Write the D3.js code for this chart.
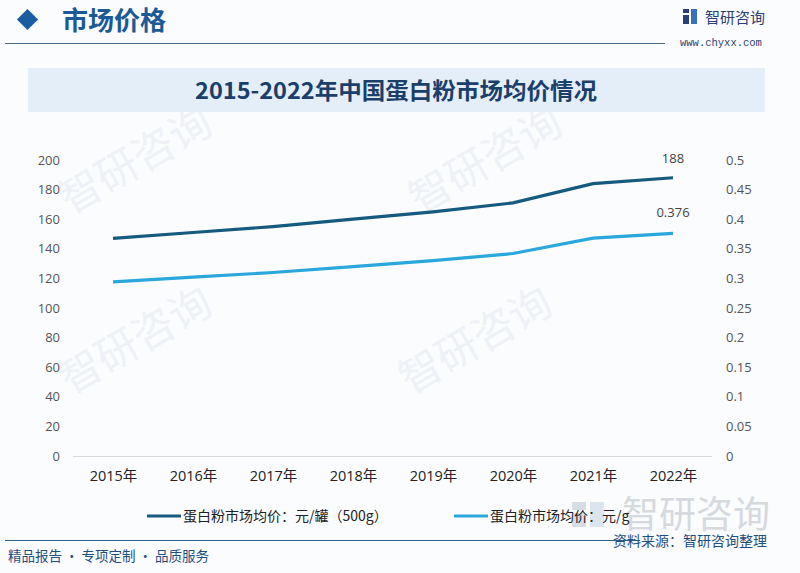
<!DOCTYPE html>
<html><head><meta charset="utf-8">
<script src="https://cdn.jsdelivr.net/npm/d3@7"></script>
<style>html,body{margin:0;padding:0;background:#fbfcfe;}svg{display:block;}</style>
</head><body>
<script>
const years = ["2015年","2016年","2017年","2018年","2019年","2020年","2021年","2022年"];
const pricePerCan = [147, 151, 155, 160, 165, 171, 184, 188];
const pricePerGram = [0.294, 0.302, 0.310, 0.320, 0.330, 0.342, 0.368, 0.376];
const leftTicks = [0,20,40,60,80,100,120,140,160,180,200];
const rightTicks = [0,0.05,0.1,0.15,0.2,0.25,0.3,0.35,0.4,0.45,0.5];
const seriesNames = ["蛋白粉市场均价：元/罐（500g）","蛋白粉市场均价：元/g"];
const colors = ["#175a80","#2aa7dc"];

const W=800,H=573;
const svg=d3.select("body").append("svg").attr("width",W).attr("height",H);
svg.append("rect").attr("width",W).attr("height",H).attr("fill","#fbfcfe");
const cjk="'Noto Sans CJK SC','Noto Sans',sans-serif";
const lat="'Open Sans','Noto Sans CJK SC',sans-serif";

// faint watermarks
const wm=svg.append("g").attr("fill","#eef2f7").attr("font-family",cjk).attr("font-size",42);
[[70,215],[420,215],[70,395],[410,395]].forEach(([x,y])=>{
  wm.append("text").attr("transform",`translate(${x},${y}) rotate(-30)`).text("智研咨询");
});

// header
svg.append("rect").attr("x",20).attr("y",12).attr("width",15).attr("height",15)
  .attr("transform","rotate(45 27.5 19.5)").attr("fill","#1a5e9f");
svg.append("text").attr("x",62).attr("y",30).attr("font-family",cjk).attr("font-weight",700)
  .attr("font-size",26).attr("fill","#1c5a96").text("市场价格");
svg.append("line").attr("x1",5).attr("x2",665).attr("y1",43.5).attr("y2",43.5).attr("stroke","#4d6b88").attr("stroke-width",1.2);
// logo
const lg=svg.append("g");
lg.append("rect").attr("x",683).attr("y",9).attr("width",6).attr("height",4).attr("fill","#2a3f7a");
lg.append("rect").attr("x",683).attr("y",15).attr("width",6).attr("height",9).attr("fill","#2a3f7a");
lg.append("rect").attr("x",691).attr("y",9).attr("width",6).attr("height",15).attr("fill","#3a6fc0");
svg.append("text").attr("x",705).attr("y",23).attr("font-family",cjk).attr("font-size",15).attr("fill","#2b3f70").text("智研咨询");
svg.append("text").attr("x",680).attr("y",46).attr("font-family","'Liberation Mono','DejaVu Sans Mono',monospace")
  .attr("font-size",10.5).attr("fill","#2b3f70").text("www.chyxx.com");

// title banner
svg.append("rect").attr("x",28).attr("y",68).attr("width",737).attr("height",44).attr("fill","#e3eef9");
svg.append("text").attr("x",396).attr("y",99).attr("text-anchor","middle").attr("font-family",cjk)
  .attr("font-weight",700).attr("font-size",23).attr("fill","#1b3e6a")
  .attr("textLength",402).attr("lengthAdjust","spacingAndGlyphs")
  .text("2015-2022年中国蛋白粉市场均价情况");

// scales
const x=d3.scalePoint().domain(years).range([113,673]);
const yL=d3.scaleLinear().domain([0,200]).range([456,160]);
const yR=d3.scaleLinear().domain([0,0.5]).range([456,160]);

// baseline
svg.append("line").attr("x1",73).attr("x2",712).attr("y1",456.5).attr("y2",456.5).attr("stroke","#d9d9d9").attr("stroke-width",1);

// axes
const axL=svg.append("g").attr("transform","translate(64,0)")
  .call(d3.axisLeft(yL).tickValues(leftTicks).tickSize(0).tickPadding(4));
axL.select(".domain").remove();
axL.selectAll("text").attr("font-family",lat).attr("font-size",13).attr("fill","#555");
const axR=svg.append("g").attr("transform","translate(722,0)")
  .call(d3.axisRight(yR).tickValues(rightTicks).tickSize(0).tickPadding(4).tickFormat(d=>String(+d.toFixed(2))));
axR.select(".domain").remove();
axR.selectAll("text").attr("font-family",lat).attr("font-size",13).attr("fill","#555");
const axB=svg.append("g").attr("transform","translate(0,467)")
  .call(d3.axisBottom(x).tickSize(0).tickPadding(4));
axB.select(".domain").remove();
axB.selectAll("text").attr("font-family",lat).attr("font-size",14.5).attr("fill","#222");

// lines
const l1=d3.line().x((d,i)=>x(years[i])).y(d=>yL(d));
const l2=d3.line().x((d,i)=>x(years[i])).y(d=>yR(d));
svg.append("path").attr("d",l2(pricePerGram)).attr("fill","none").attr("stroke",colors[1]).attr("stroke-width",3.2);
svg.append("path").attr("d",l1(pricePerCan)).attr("fill","none").attr("stroke",colors[0]).attr("stroke-width",3.2);

// data labels
const n=years.length-1;
svg.append("text").attr("x",x(years[n])).attr("y",yL(pricePerCan[n])-15).attr("text-anchor","middle")
  .attr("font-family",lat).attr("font-size",13).attr("fill","#444").text(pricePerCan[n]);
svg.append("text").attr("x",x(years[n])).attr("y",yR(pricePerGram[n])-16).attr("text-anchor","middle")
  .attr("font-family",lat).attr("font-size",13).attr("fill","#444").text(pricePerGram[n]);

// watermark bottom right
svg.append("text").attr("x",622).attr("y",528).attr("font-family",cjk).attr("font-size",37)
  .attr("fill","#cdd1d6").attr("opacity",0.8).text("智研咨询");
svg.append("rect").attr("x",572).attr("y",502).attr("width",14).attr("height",8).attr("fill","#cdd5df").attr("opacity",0.8);
svg.append("rect").attr("x",572).attr("y",513).attr("width",14).attr("height",14).attr("fill","#cdd5df").attr("opacity",0.8);
svg.append("rect").attr("x",590).attr("y",502).attr("width",14).attr("height",25).attr("fill","#d5dde8").attr("opacity",0.8);

// legend
const legX=[147,454];
seriesNames.forEach((s,i)=>{
  svg.append("line").attr("x1",legX[i]).attr("x2",legX[i]+34).attr("y1",516).attr("y2",516)
    .attr("stroke",colors[i]).attr("stroke-width",3);
  svg.append("text").attr("x",legX[i]+36).attr("y",521).attr("font-family",cjk).attr("font-size",14)
    .attr("fill","#222").text(s);
});

// footer
svg.append("line").attr("x1",5).attr("x2",640).attr("y1",540.5).attr("y2",540.5).attr("stroke","#2d5f8a").attr("stroke-width",1.2);
svg.append("text").attr("x",613).attr("y",546).attr("font-family",cjk).attr("font-size",14).attr("fill","#1f4e80").text("资料来源：智研咨询整理");
svg.append("text").attr("x",8).attr("y",561).attr("font-family",cjk).attr("font-size",13.5).attr("fill","#1f4e80").text("精品报告 · 专项定制 · 品质服务");
</script>
</body></html>
